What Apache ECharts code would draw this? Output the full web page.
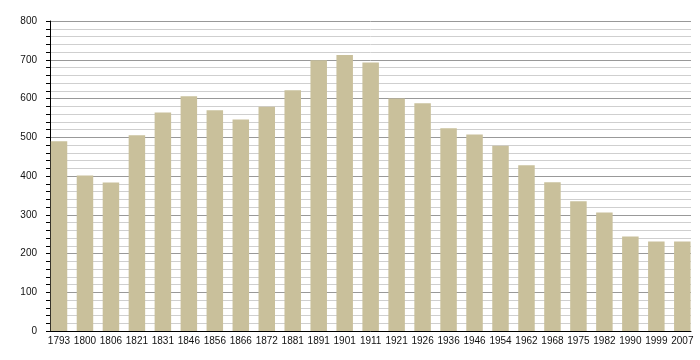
<!DOCTYPE html>
<html>
<head>
<meta charset="utf-8">
<script src="https://cdn.jsdelivr.net/npm/echarts@6/dist/echarts.min.js"></script>
<style>html,body{margin:0;padding:0;background:#fff}#c{width:700px;height:360px}</style>
</head>
<body>
<div id="c"></div>
<script>
const years = ['1793','1800','1806','1821','1831','1846','1856','1866','1872','1881','1891','1901','1911','1921','1926','1936','1946','1954','1962','1968','1975','1982','1990','1999','2007'];
const population = [490,401,383,505,564,606,570,546,579,621,699,712,693,600,588,523,507,478,428,384,335,306,244,231,231];
const yTicks = {min:0, max:800, interval:100};

const font = '"Liberation Sans",Arial,sans-serif';
const chart = echarts.init(document.getElementById('c'), null, {renderer:'canvas'});
chart.setOption({
  animation:false,
  grid:[
    {left:50, right:9, top:21, bottom:29, containLabel:false},
    {left:46, right:4.7, top:21, bottom:29, containLabel:false}
  ],
  xAxis:[{
    gridIndex:0, type:'value', min:0, max:1,
    axisLine:{show:true, onZero:false, lineStyle:{color:'#000', width:1}},
    axisTick:{show:false}, axisLabel:{show:false}, splitLine:{show:false}
  },{
    gridIndex:1, type:'category', data:years,
    axisLine:{show:false},
    axisTick:{show:false},
    axisLabel:{interval:0, margin:5, color:'#111', fontSize:10, fontFamily:font},
    splitLine:{show:false}
  }],
  yAxis:[{
    gridIndex:0, type:'value', min:yTicks.min, max:yTicks.max, interval:yTicks.interval,
    axisLine:{show:true, lineStyle:{color:'#000', width:1}},
    axisTick:{show:true, length:4, lineStyle:{color:'#000'}},
    minorTick:{show:true, splitNumber:5, length:4, lineStyle:{color:'#000'}},
    axisLabel:{margin:13, color:'#111', fontSize:10, fontFamily:font},
    splitLine:{show:true, lineStyle:{color:'#999', width:1}},
    minorSplitLine:{show:true, lineStyle:{color:'#cfcfcf', width:1}}
  },{
    gridIndex:1, type:'value', min:yTicks.min, max:yTicks.max, interval:yTicks.interval,
    show:false, splitLine:{show:false}
  }],
  series:[{
    type:'bar', xAxisIndex:1, yAxisIndex:1, data:population, barWidth:16.5,
    itemStyle:{color:'#c9c09b'}
  }]
});
</script>
</body>
</html>
